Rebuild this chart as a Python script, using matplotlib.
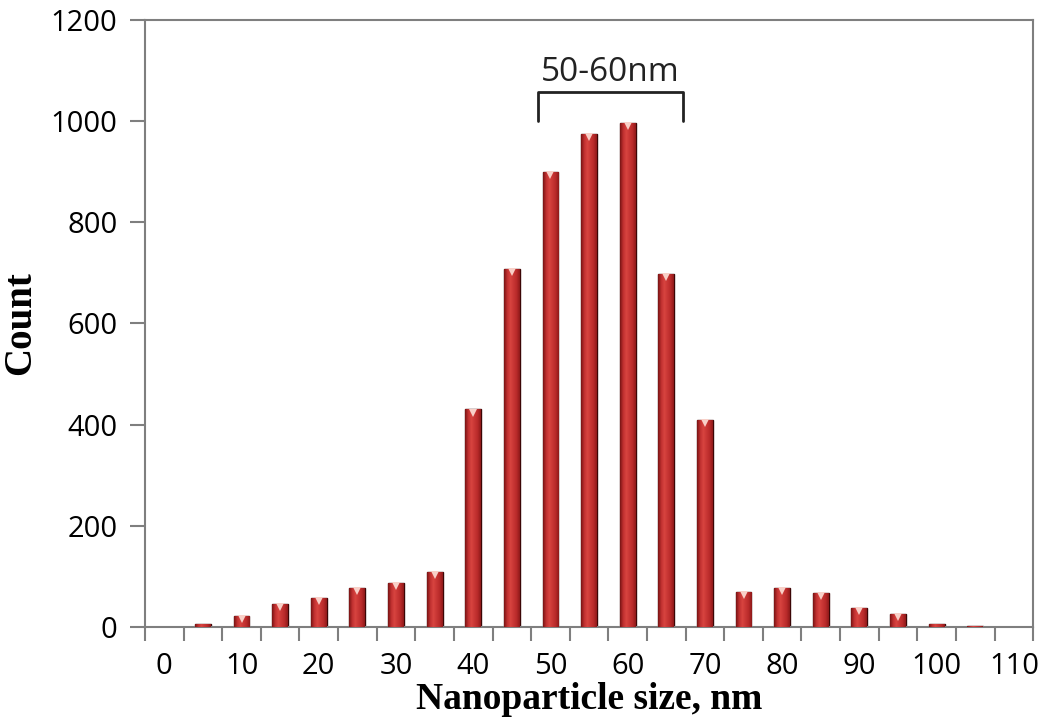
import numpy as np
import matplotlib
matplotlib.use("Agg")
import matplotlib.pyplot as plt
from matplotlib.colors import LinearSegmentedColormap

sizes = list(range(0, 115, 5))
counts = [0, 5, 21, 45, 57, 77, 87, 108, 430, 707, 900, 974, 997, 698, 409,
          70, 78, 67, 38, 25, 5, 2, 0]
tick_vals = list(range(0, 120, 10))
y_ticks = [0, 200, 400, 600, 800, 1000, 1200]

fig = plt.figure(figsize=(10.51, 7.22), dpi=100)
ax = fig.add_axes([0.138, 0.1316, 0.845, 0.8407])

frame = "#7f7f7f"
bars = ax.bar(sizes, counts, width=2.05, color="#bf2e2e", edgecolor="#3c0606",
              linewidth=1.0, zorder=2)

# cylinder-like shading across each bar
cmap = LinearSegmentedColormap.from_list(
    "cyl", ["#7a1414", "#c03030", "#d84440", "#c83634", "#b82a2a", "#8e1a1a"])
grad = np.linspace(0, 1, 64).reshape(1, -1)
for b in bars:
    h = b.get_height()
    if h <= 0:
        continue
    x0 = b.get_x()
    w = b.get_width()
    im = ax.imshow(grad, cmap=cmap, aspect="auto",
                   extent=[x0, x0 + w, 0, h], zorder=3)
    im.set_clip_path(b)
    if h > 15:
        ax.plot(x0 + w / 2, h - 6, marker="v", color="#f8d0c8",
                markersize=6, markeredgewidth=0, zorder=4)

ax.set_xlim(-2.5, 112.5)
ax.set_ylim(0, 1200)

ax.set_xticks(tick_vals)
ax.set_xticklabels([str(v) for v in tick_vals], fontsize=21, family="Open Sans")
ax.set_xticks(np.arange(-2.5, 113, 5), minor=True)
ax.tick_params(axis="x", which="major", length=0, pad=18)
ax.tick_params(axis="x", which="minor", length=10, width=1.5, color=frame,
               direction="out")
ax.set_yticks(y_ticks)
ax.set_yticklabels([str(v) for v in y_ticks], fontsize=21, family="Open Sans")
ax.tick_params(axis="y", length=11, width=1.5, color=frame, direction="out", pad=9)

for s in ax.spines.values():
    s.set_color(frame)
    s.set_linewidth(1.5)

ax.set_xlabel("Nanoparticle size, nm", fontsize=27, fontweight="bold",
              family="Liberation Serif", labelpad=1)
ax.set_ylabel("Count", fontsize=28, fontweight="bold",
              family="Liberation Serif", labelpad=8)

# bracket marking the 50-60 nm range
bx = [48.4, 48.4, 67.1, 67.1]
by = [1000, 1057, 1057, 1000]
ax.plot(bx, by, color="#222222", linewidth=2, solid_joinstyle="round",
        solid_capstyle="round", clip_on=False, zorder=5)
ax.text(57.7, 1096, "50-60nm", ha="center", va="center", fontsize=24,
        family="Open Sans", color="#222222")

fig.savefig("out.png", dpi=100)
